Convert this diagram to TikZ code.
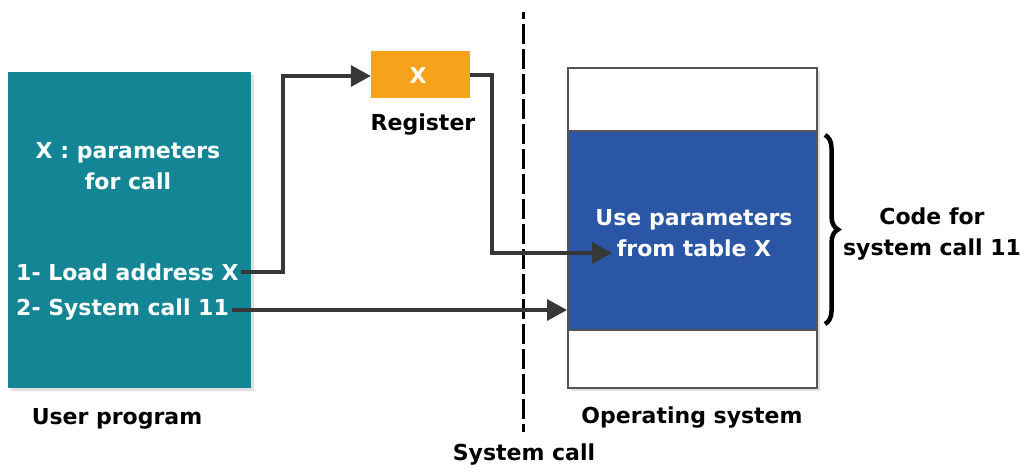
\documentclass[tikz,border=0pt]{standalone}
\usepackage{fontspec}
\setmainfont{DejaVu Sans}
\usetikzlibrary{arrows.meta,decorations.pathreplacing}
\definecolor{tealbox}{RGB}{19,133,148}
\definecolor{orangebox}{RGB}{247,162,27}
\definecolor{bluebox}{RGB}{43,86,165}
\definecolor{linegray}{RGB}{55,55,55}
\tikzset{
  txt/.style={font=\fontsize{22}{31}\selectfont\bfseries, inner sep=0pt, align=center},
  wtxt/.style={txt, text=white},
  conn/.style={draw=linegray, line width=3.4pt, -{Triangle[length=20pt,width=21pt]}},
}
\begin{document}
\begin{tikzpicture}[x=1pt,y=-1pt]
\useasboundingbox (0,0) rectangle (1027,474);
% user program box
\node[fill=black!12, minimum width=243pt, minimum height=316pt, inner sep=0pt] at (132,233) {};
\node (user) [fill=tealbox, minimum width=243pt, minimum height=316pt, inner sep=0pt] at (129.5,230) {};
\node (xparam) [wtxt] at (128,166) {X : parameters\\for call};
\node (load) [wtxt, anchor=west] at (16,272) {1- Load address X};
\node (sys) [wtxt, anchor=west] at (16,310) {2- System call 11};
\node (uplabel) [txt] at (117,419) {User program};
% register
\node (reg) [fill=orangebox, minimum width=99pt, minimum height=47pt, inner sep=0pt] at (420.5,74) {};
\node (regx) [wtxt] at (418,75) {X};
\node (reglabel) [txt] at (423,125) {Register};
% OS box
\node[fill=black!12, minimum width=249pt, minimum height=320pt, inner sep=0pt] at (695.5,231) {};
\node (os) [fill=white, draw=linegray!85, line width=2pt, minimum width=249pt, minimum height=320pt, inner sep=0pt] at (692.5,228) {};
\node (code) [fill=bluebox, draw=linegray!85, line width=2pt, minimum width=249pt, minimum height=199pt, inner sep=0pt] at (692.5,230.5) {};
\node (usep) [wtxt] at (694,233) {Use parameters\\from table X};
\node (oslabel) [txt] at (692,418) {Operating system};
% dashed separator
\coordinate (dtop) at (523,12);
\coordinate (dbot) at (523,432);
\draw[draw=black, line width=3pt, dash pattern=on 20pt off 5pt, dash phase=13pt] (dtop) -- (dbot);
\node (sclabel) [txt] at (524,455) {System call};
% brace
\coordinate (btop) at (825,135);
\coordinate (bbot) at (825,324);
\draw[line width=4.5pt, decorate, decoration={brace, amplitude=13pt}] (btop) -- (bbot);
\node (codelabel) [txt] at (932,234) {Code for\\system call 11};
% connectors
\coordinate (tip1) at (612,253);
\draw[conn] (load.east) ++(2pt,0) -- (283,272) -- (283,76) -- (reg.west |- 0,76);
\draw[conn] (reg.east |- 0,75) -- (492,75) -- (492,253) -- (tip1);
\draw[conn] (sys.east) ++(3pt,0) -- (code.west |- sys.east);
\end{tikzpicture}
\end{document}
